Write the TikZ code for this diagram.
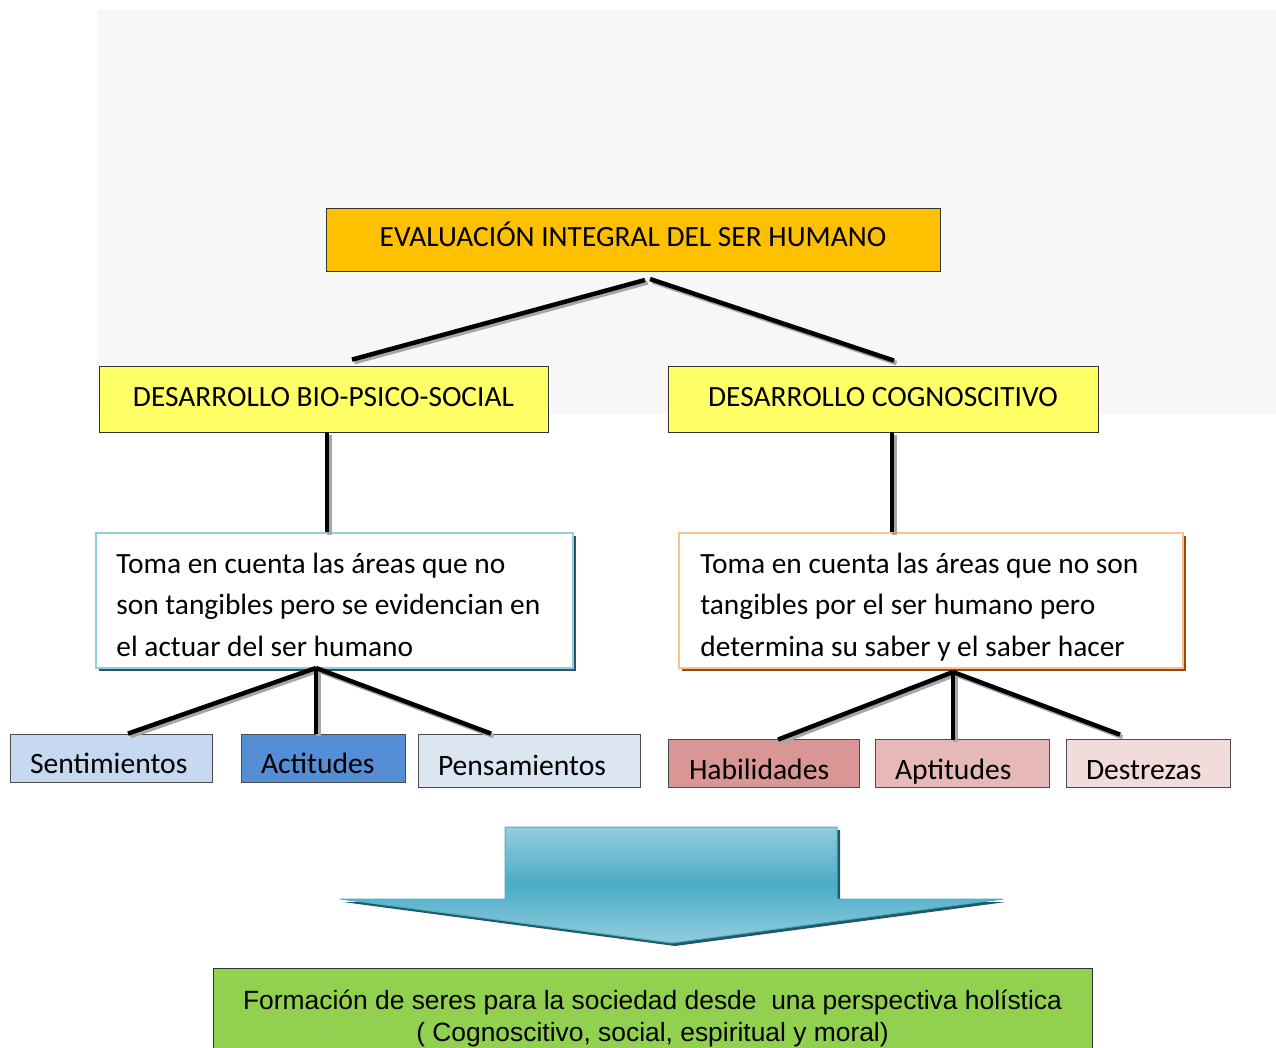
\documentclass[tikz,border=0pt]{standalone}
\usepackage{fontspec}
\setmainfont{Carlito}
\newfontfamily\arialfont{Liberation Sans}
\usetikzlibrary{positioning,calc}

\definecolor{fondo}{HTML}{F7F7F7}
\definecolor{naranja}{HTML}{FFC000}
\definecolor{amarillo}{HTML}{FFFF66}
\definecolor{celeste}{HTML}{93CDDD}
\definecolor{petroleo}{HTML}{215968}
\definecolor{melocoton}{HTML}{FAC090}
\definecolor{marron}{HTML}{984807}
\definecolor{turquesa}{HTML}{4BACC6}
\definecolor{verde}{HTML}{92D050}
\definecolor{azul1}{HTML}{C6D9F1}
\definecolor{azul2}{HTML}{558ED5}
\definecolor{azul3}{HTML}{DCE6F2}
\definecolor{rosa1}{HTML}{D99694}
\definecolor{rosa2}{HTML}{E6B9B8}
\definecolor{rosa3}{HTML}{F2DCDB}

\tikzset{
  caja/.style={draw=black!80, line width=0.8pt, inner sep=0pt, text height=19pt, text depth=5pt,
               font=\fontsize{29.4}{34}\selectfont},
  marco/.style={fill=white, line width=1.6pt},
  texto/.style={anchor=north west, inner sep=0pt, align=left, font=\fontsize{29.4}{41.5}\selectfont},
  hoja/.style={draw=black!70, line width=0.8pt, inner xsep=20pt, inner ysep=0pt, align=left,
               text height=30pt, text depth=0pt, font=\fontsize{29.6}{34}\selectfont},
  rama/.style={line width=4.5pt, line cap=butt,
               preaction={draw=black!35, line width=4.5pt, transform canvas={shift={(2.5,2.5)}}}}
}

\begin{document}
\begin{tikzpicture}[x=1pt,y=-1pt]
\useasboundingbox (0,0) rectangle (1276,1048);
\fill[fondo] (97,10) rectangle (1276,414);

% niveles superiores
\node[caja, fill=naranja, minimum width=614, minimum height=63] (eval) at (633,239.5) {EVALUACIÓN INTEGRAL DEL SER HUMANO};
\node[caja, fill=amarillo, minimum width=449, minimum height=66] (bio) at (323.5,399) {DESARROLLO BIO-PSICO-SOCIAL};
\node[caja, fill=amarillo, minimum width=430, minimum height=66] (cog) at (883,399) {DESARROLLO COGNOSCITIVO};

\coordinate (evalL) at (645,280);
\coordinate (evalR) at (650,279);
\draw[rama] (evalL) -- ($(bio.north -| 352,0)+(0,-6)$);
\draw[rama] (evalR) -- ($(cog.north -| 894,0)+(0,-5)$);

% descripciones
\fill[petroleo] (99,536) rectangle (576,671);
\node[marco, draw=celeste, minimum width=477, minimum height=135] (tbio) at (334.5,600.5) {};
\node[texto] (tbiotxt) at ($(tbio.north west)+(21,12)$)
  {\strut Toma en cuenta las áreas que no\\son tangibles pero se evidencian en\\el actuar del ser humano};
\fill[marron] (682,536) rectangle (1186,671);
\node[marco, draw=melocoton, minimum width=504, minimum height=135] (tcog) at (931,600.5) {};
\node[texto] (tcogtxt) at ($(tcog.north west)+(22,12)$)
  {\strut Toma en cuenta las áreas que no son\\tangibles por el ser humano pero\\determina su saber y el saber hacer};

\draw[rama] (bio.south -| 327,0) -- (tbio.north -| 327,0);
\draw[rama] (cog.south -| 892,0) -- (tcog.north -| 892,0);

% cualidades
\node[hoja, fill=azul1, text width=162pt, minimum height=48] (sent) at (111,758) {Sentimientos};
\node[hoja, fill=azul2, text width=124pt, minimum height=48] (acti) at (323,758) {Actitudes};
\node[hoja, fill=azul3, text width=182pt, minimum height=53] (pens) at (529,760.5) {Pensamientos};
\node[hoja, fill=rosa1, text width=149pt, minimum height=48, inner xsep=21pt, text height=32pt] (habi) at (763.5,763) {Habilidades};
\node[hoja, fill=rosa2, text width=134pt, minimum height=48, text height=32pt] (apti) at (962,763) {Aptitudes};
\node[hoja, fill=rosa3, text width=124pt, minimum height=48, text height=32pt] (dest) at (1148,763) {Destrezas};

\coordinate (tbioB) at (316,668);
\coordinate (tcogB) at (953,672);
\draw[rama] (tbioB) -- (sent.north -| 128,0);
\draw[rama] (tbioB) -- (acti.north -| 316,0);
\draw[rama] (tbioB) -- (pens.north -| 491,0);
\draw[rama] (tcogB) -- ($(habi.north -| 778,0)+(0,1)$);
\draw[rama] (tcogB) -- ($(apti.north -| 953,0)+(0,1)$);
\draw[rama] (tcogB) -- ($(dest.north -| 1120,0)+(0,-4)$);

% flecha
\path[save path=\flecha] (505,827) -- (837,827) -- (837,899) -- (1003,899) -- (672,943) -- (340,899) -- (505,899) -- cycle;
\fill[petroleo, transform canvas={shift={(3,3)}}, use path=\flecha];
\begin{scope}
  \clip[use path=\flecha];
  \foreach \i in {0,...,29} {
    \pgfmathtruncatemacro\p{100-abs(827+\i*4+2-885)*100/58}
    \fill[turquesa!\p!celeste] (330,{827+\i*4}) rectangle (1010,{831.6+\i*4});
  }
\end{scope}
\draw[turquesa, line width=1pt, use path=\flecha];

% resultado
\node[draw=black!80, line width=0.8pt, fill=verde, minimum width=879, minimum height=100, anchor=north,
      align=center, inner sep=0pt, font=\arialfont\fontsize{26.4}{32}\selectfont] (form) at (652.5,968)
  {Formación de seres para la sociedad desde\ \ una perspectiva holística\\( Cognoscitivo, social, espiritual y moral)};
\end{tikzpicture}
\end{document}
